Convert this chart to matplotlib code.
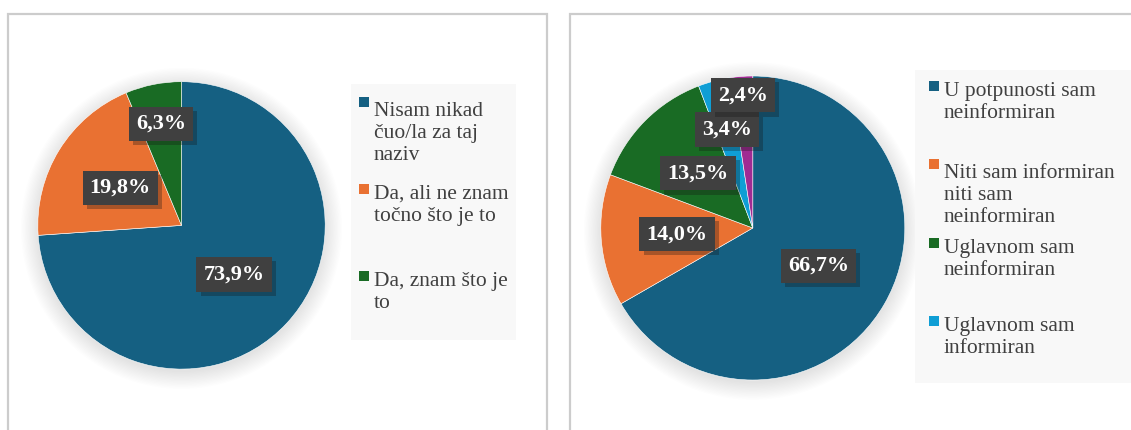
import matplotlib
matplotlib.use('Agg')
import matplotlib.pyplot as plt
import matplotlib.patheffects as pe
from matplotlib.patches import Rectangle, Circle
import numpy as np

# data
left_values = [73.9, 19.8, 6.3]
left_texts = ['73,9%', '19,8%', '6,3%']
left_labels = ['Nisam nikad\nčuo/la za taj\nnaziv',
               'Da, ali ne znam\ntočno što je to',
               'Da, znam što je\nto']
left_colors = ['#156082', '#E97132', '#196B24']

right_values = [66.7, 14.0, 13.5, 3.4, 2.4]
right_texts = ['66,7%', '14,0%', '13,5%', '3,4%', '2,4%']
# the fifth legend entry is cut off in the original
right_labels = ['U potpunosti sam\nneinformiran',
                'Niti sam informiran\nniti sam\nneinformiran',
                'Uglavnom sam\nneinformiran',
                'Uglavnom sam\ninformiran']
right_colors = ['#156082', '#E97132', '#196B24', '#0F9ED5', '#A02B93']

W, H = 1131, 430
FS = 15.5
LINE = 1.2 * FS * 100 / 72  # line height in pixels
plt.rcParams['font.family'] = ['Liberation Serif', 'DejaVu Serif']

fig = plt.figure(figsize=(W / 100, H / 100), dpi=100)
ax = fig.add_axes([0, 0, 1, 1])


def py(y):
    # pixel row (top = 0) -> data y
    return H - y


def panel(values, texts, labels, colors, cx, cy, r, dists,
          box, leg_x, leg_base):
    # soft shadow behind the pie
    for i in range(14):
        ax.add_patch(Circle((cx, py(cy) - 3), r + i * 1.3, color='black',
                            alpha=0.009, lw=0, zorder=1))
    wedges, _ = ax.pie(values, colors=colors, startangle=90, counterclock=False,
                       center=(cx, py(cy)), radius=r,
                       wedgeprops=dict(edgecolor='white', linewidth=0.4))
    for w in wedges:
        w.set_zorder(2)
    for w, t, d in zip(wedges, texts, dists):
        ang = np.deg2rad((w.theta1 + w.theta2) / 2)
        tx = ax.text(cx + d * r * np.cos(ang), py(cy) + d * r * np.sin(ang), t,
                     ha='center', va='center', color='white', fontsize=16,
                     fontweight='bold', zorder=5,
                     bbox=dict(boxstyle='square,pad=0.32', fc='#404040', ec='none'))
        tx.get_bbox_patch().set_path_effects(
            [pe.SimplePatchShadow(offset=(3, -3), alpha=0.3), pe.Normal()])

    # legend
    x0, y0, x1, y1 = box
    ax.add_patch(Rectangle((x0, py(y1)), x1 - x0, y1 - y0, fc='#F8F8F8',
                           ec='none', zorder=1, clip_on=False))
    for lab, c, b in zip(labels, colors, leg_base):
        ax.add_patch(Rectangle((leg_x, py(b) + 1.5), 10, 10, fc=c, ec='none',
                               zorder=3))
        # va='baseline' pins the last line, so shift down by the extra lines
        last = b + lab.count('\n') * LINE
        ax.text(leg_x + 15, py(last), lab, ha='left', va='baseline',
                fontsize=FS, color='#404040', linespacing=1.2, zorder=3)


# panel frames
ax.add_patch(Rectangle((8, -20), 539, py(13.5) + 20, fill=False,
                       ec='#CCCCCC', lw=1.6, zorder=0))
ax.add_patch(Rectangle((570, -20), 600, py(13.5) + 20, fill=False,
                       ec='#CCCCCC', lw=1.6, zorder=0))

panel(left_values, left_texts, left_labels, left_colors,
      181.5, 225.4, 143.7, [0.5, 0.5, 0.72],
      (351, 84, 516, 340), 359, [108, 195, 282])
panel(right_values, right_texts, right_labels, right_colors,
      752.8, 228, 152, [0.5, 0.5, 0.51, 0.67, 0.875],
      (915, 70, 1140, 383), 929, [92, 170, 249, 327])

ax.set_xlim(0, W)
ax.set_ylim(0, H)
ax.set_aspect('auto')
ax.axis('off')

fig.savefig('out.png', dpi=100)
